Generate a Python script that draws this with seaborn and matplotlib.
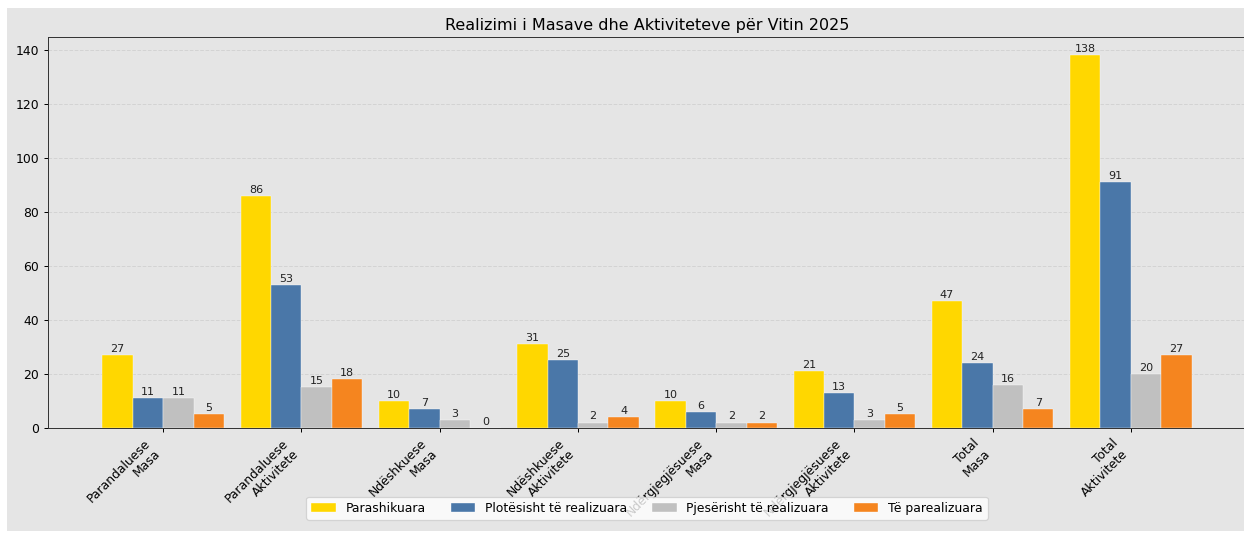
import numpy as np
import pandas as pd
import matplotlib.pyplot as plt
import seaborn as sns
from matplotlib.patches import Rectangle

# Data
categories = ["Parandaluese\nMasa", "Parandaluese\nAktivitete",
              "Ndëshkuese\nMasa", "Ndëshkuese\nAktivitete",
              "Ndërgjegjësuese\nMasa", "Ndërgjegjësuese\nAktivitete",
              "Total\nMasa", "Total\nAktivitete"]
series = ["Parashikuara", "Plotësisht të realizuara",
          "Pjesërisht të realizuara", "Të parealizuara"]
parashikuara = [27, 86, 10, 31, 10, 21, 47, 138]
plotesisht = [11, 53, 7, 25, 6, 13, 24, 91]
pjeserisht = [11, 15, 3, 2, 2, 3, 16, 20]
parealizuara = [5, 18, 0, 4, 2, 5, 7, 27]
colors = ["#FFD700", "#4A77A8", "#C0C0C0", "#F5851F"]

df = pd.DataFrame({
    "kategoria": categories * 4,
    "seria": np.repeat(series, len(categories)),
    "vlera": parashikuara + plotesisht + pjeserisht + parealizuara,
})

plt.rcParams["font.family"] = ["DejaVu Sans"]
bg = "#E5E5E5"
DPI = 88.86

fig = plt.figure(figsize=(14, 6), dpi=DPI, facecolor="white")
fig.patches.append(Rectangle((7 / 1244, 2 / 533), 1.0, 523 / 533,
                             transform=fig.transFigure, facecolor=bg,
                             edgecolor="none", zorder=-10))
ax = fig.add_axes([48 / 1244, 105 / 533, 1198 / 1244, 391 / 533])
ax.set_facecolor(bg)

sns.barplot(data=df, x="kategoria", y="vlera", hue="seria", order=categories,
            hue_order=series, palette=colors, width=0.88, saturation=1,
            edgecolor="white", linewidth=0.3, ax=ax, zorder=3)

for cont in ax.containers:
    ax.bar_label(cont, fontsize=9, padding=1, color="#222222")

ax.set_xlim(-0.834, 7.834)
ax.set_ylim(0, 144.9)
ax.set_yticks(range(0, 141, 20))
ax.set_xticks(range(len(categories)))
ax.set_xticklabels(categories, rotation=45, ha="right", fontsize=10)
ax.tick_params(axis="y", labelsize=10)
ax.set_xlabel("")
ax.set_ylabel("")
ax.set_title("Realizimi i Masave dhe Aktiviteteve për Vitin 2025", fontsize=13)
ax.grid(axis="y", linestyle="--", color="#cccccc", alpha=0.7, linewidth=0.8)
ax.grid(axis="x", visible=False)
ax.set_axisbelow(True)
for s in ax.spines.values():
    s.set_color("#333333")

ax.legend(loc="upper center", bbox_to_anchor=(0.5, -0.16), ncol=4, fontsize=10)

fig.savefig("out.png", dpi=DPI, facecolor="white")
